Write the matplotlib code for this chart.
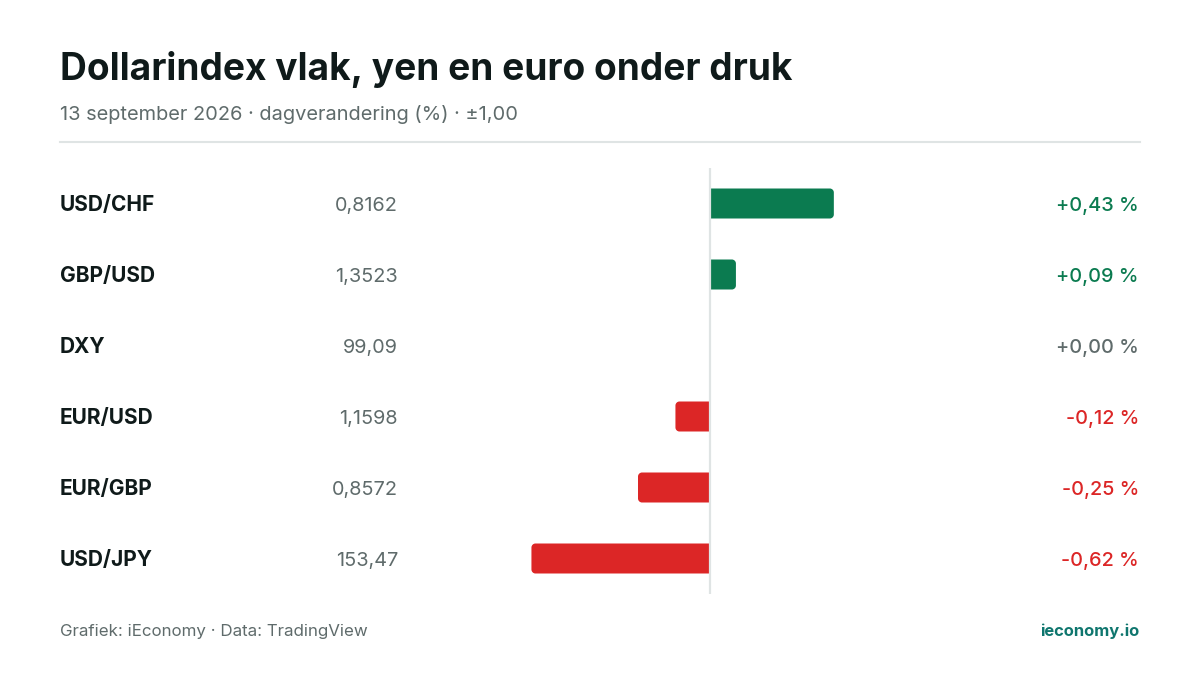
import matplotlib.pyplot as plt
import matplotlib.transforms as mtransforms
from matplotlib.path import Path
from matplotlib.patches import PathPatch

# Data
pairs = ["USD/CHF", "GBP/USD", "DXY", "EUR/USD", "EUR/GBP", "USD/JPY"]
rates = ["0,8162", "1,3523", "99,09", "1,1598", "0,8572", "153,47"]
changes = [0.43, 0.09, 0.00, -0.12, -0.25, -0.62]

GREEN = "#0b7b50"
RED = "#dc2626"
GRAY = "#5f6b6b"
DARK = "#0f1a1a"
TEAL = "#0f766e"
LINE = "#dfe4e4"

plt.rcParams['font.family'] = ['Inter', 'DejaVu Sans']

W, H = 1200, 675
fig = plt.figure(figsize=(12, 6.75), dpi=100)
fig.patch.set_facecolor("white")

def fx(x):
    return x / W

def fy(y):
    return 1 - y / H

# Bar axes: zero at x=710, 288 px per 1 %
ax = fig.add_axes([fx(422), fy(594), fx(998) - fx(422), fy(168) - fy(594)])
ax.set_xlim(-1, 1)
ax.set_ylim(len(pairs) - 0.5, -0.5)
ax.axis("off")

ax.axvline(0, color=LINE, lw=1.6, zorder=3)


def bar_path(v, yc, h, rx, ry):
    # bar from 0 to v, rounded only at the outer end
    s = 1 if v > 0 else -1
    rx = min(rx, abs(v))
    k = 0.5523
    y0, y1 = yc - h / 2, yc + h / 2
    xa = v - s * rx
    verts = [(0, y0), (xa, y0),
             (xa + s * k * rx, y0), (v, y0 + ry - k * ry), (v, y0 + ry),
             (v, y1 - ry),
             (v, y1 - ry + k * ry), (xa + s * k * rx, y1), (xa, y1),
             (0, y1), (0, y0)]
    codes = [Path.MOVETO, Path.LINETO,
             Path.CURVE4, Path.CURVE4, Path.CURVE4,
             Path.LINETO,
             Path.CURVE4, Path.CURVE4, Path.CURVE4,
             Path.LINETO, Path.CLOSEPOLY]
    return Path(verts, codes)


bar_h = 30 / 71
for i, v in enumerate(changes):
    if v == 0:
        continue
    c = GREEN if v > 0 else RED
    ax.add_patch(PathPatch(bar_path(v, i, bar_h, 4 / 288, 4 / 71),
                           fc=c, ec="none", zorder=2))

# Row texts, baseline 7 px below row centre
trans = mtransforms.blended_transform_factory(fig.transFigure, ax.transData)
trans = mtransforms.offset_copy(trans, fig=fig, x=0, y=-7.2, units='dots')
for i, (name, rate, v) in enumerate(zip(pairs, rates, changes)):
    fig.text(fx(60), i, name, transform=trans, ha="left", va="baseline",
             fontsize=15, fontweight="bold", color=DARK)
    fig.text(fx(398), i, rate, transform=trans, ha="right", va="baseline",
             fontsize=14.3, color=GRAY)
    col = GREEN if v > 0 else (RED if v < 0 else GRAY)
    lab = f"{v:+.2f} %".replace(".", ",")
    fig.text(fx(1139), i, lab, transform=trans, ha="right", va="baseline",
             fontsize=14.3, fontweight="medium", color=col)

# Title and subtitle
fig.text(fx(60), fy(80), "Dollarindex vlak, yen en euro onder druk",
         ha="left", va="baseline", fontsize=26.7, fontweight="bold", color=DARK)
fig.text(fx(60), fy(120.5), "13 september 2026 · dagverandering (%) · ±1,00",
         ha="left", va="baseline", fontsize=14.4, color=GRAY)
fig.add_artist(plt.Line2D([fx(60), fx(1140)], [fy(142), fy(142)],
                          color=LINE, lw=1.5))

# Footer
fig.text(fx(60), fy(636), "Grafiek: iEconomy · Data: TradingView",
         ha="left", va="baseline", fontsize=12.2, color=GRAY)
fig.text(fx(1139), fy(636), "ieconomy.io",
         ha="right", va="baseline", fontsize=11.9, fontweight="bold", color=TEAL)

plt.savefig("out.png", dpi=100, facecolor="white")
